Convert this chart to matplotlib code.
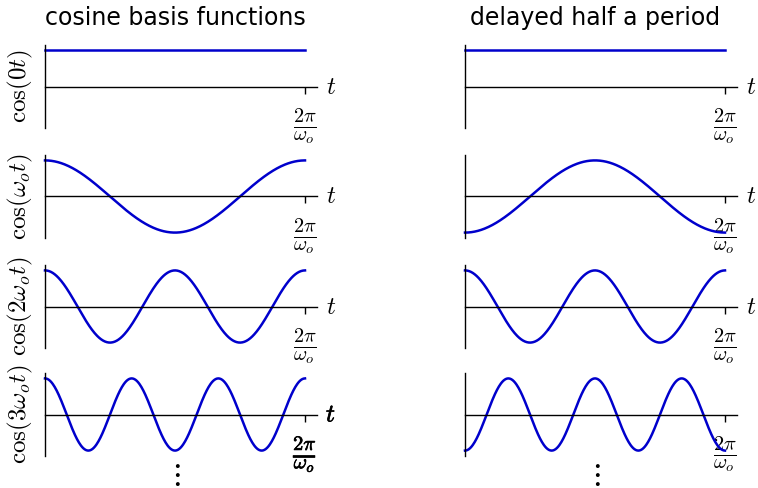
import numpy as np
import matplotlib
matplotlib.use('Agg')
import matplotlib.pyplot as plt
import matplotlib.patheffects as pe

plt.rcParams['mathtext.fontset'] = 'cm'

# harmonic number of each row and delay (in periods) of each column
harmonics = [0, 1, 2, 3]
delays = [0.0, 0.5]
titles = ["cosine basis functions", "delayed half a period"]
ylabels = [r"$\cos(0t)$", r"$\cos(\omega_o t)$", r"$\cos(2\omega_o t)$", r"$\cos(3\omega_o t)$"]
ticklabel = r"$\frac{2\pi}{\omega_o}$"

W, H = 758, 488
fig = plt.figure(figsize=(W / 100, H / 100), dpi=100)

col_left = [45, 465]
col_width = 272
row_top = [45, 155, 265, 373]
row_h = 83
T = 2 * np.pi
t = np.linspace(0, T, 400)
blue = '#0000cc'

for c, d in enumerate(delays):
    for r, k in enumerate(harmonics):
        ax = fig.add_axes([col_left[c] / W, 1 - (row_top[r] + row_h) / H,
                           col_width / W, row_h / H])
        y = np.cos(k * (t - d * T))
        ax.plot(t, y, color=blue, lw=1.8, clip_on=False)
        ax.set_xlim(0, T * col_width / 260)
        ax.set_ylim(-1.15, 1.15)
        ax.spines['top'].set_visible(False)
        ax.spines['right'].set_visible(False)
        ax.spines['bottom'].set_position(('data', 0))
        ax.spines['bottom'].set_linewidth(1)
        ax.spines['left'].set_linewidth(1)
        ax.set_yticks([])
        ax.set_xticks([T])
        ax.set_xticklabels([ticklabel])
        ax.tick_params(axis='x', direction='out', length=5, width=1, pad=9, labelsize=21)
        last = (r == len(harmonics) - 1)
        if not (last and c == 1):
            ax.text(T * 1.1, 0, r"$t$", fontsize=18, va='center', ha='center')
        if last and c == 0:
            bold = [pe.withStroke(linewidth=0.5, foreground='black')]
            for lab in ax.get_xticklabels():
                lab.set_path_effects(bold)
            ax.texts[-1].set_path_effects(bold)
        if c == 0:
            fig.text(20 / W, 1 - (row_top[r] + row_h / 2) / H, ylabels[r],
                     rotation=90, fontsize=18, ha='center', va='center')
        if r == 0:
            fig.text((col_left[c] + 130) / W, 1 - 18 / H, titles[c], fontsize=17,
                     family='DejaVu Sans', ha='center', va='center')
    fig.text((col_left[c] + 130) / W, 1 - 474 / H, r"$\vdots$", fontsize=22,
             ha='center', va='center', fontweight='bold')

fig.savefig('out.png', dpi=100)
